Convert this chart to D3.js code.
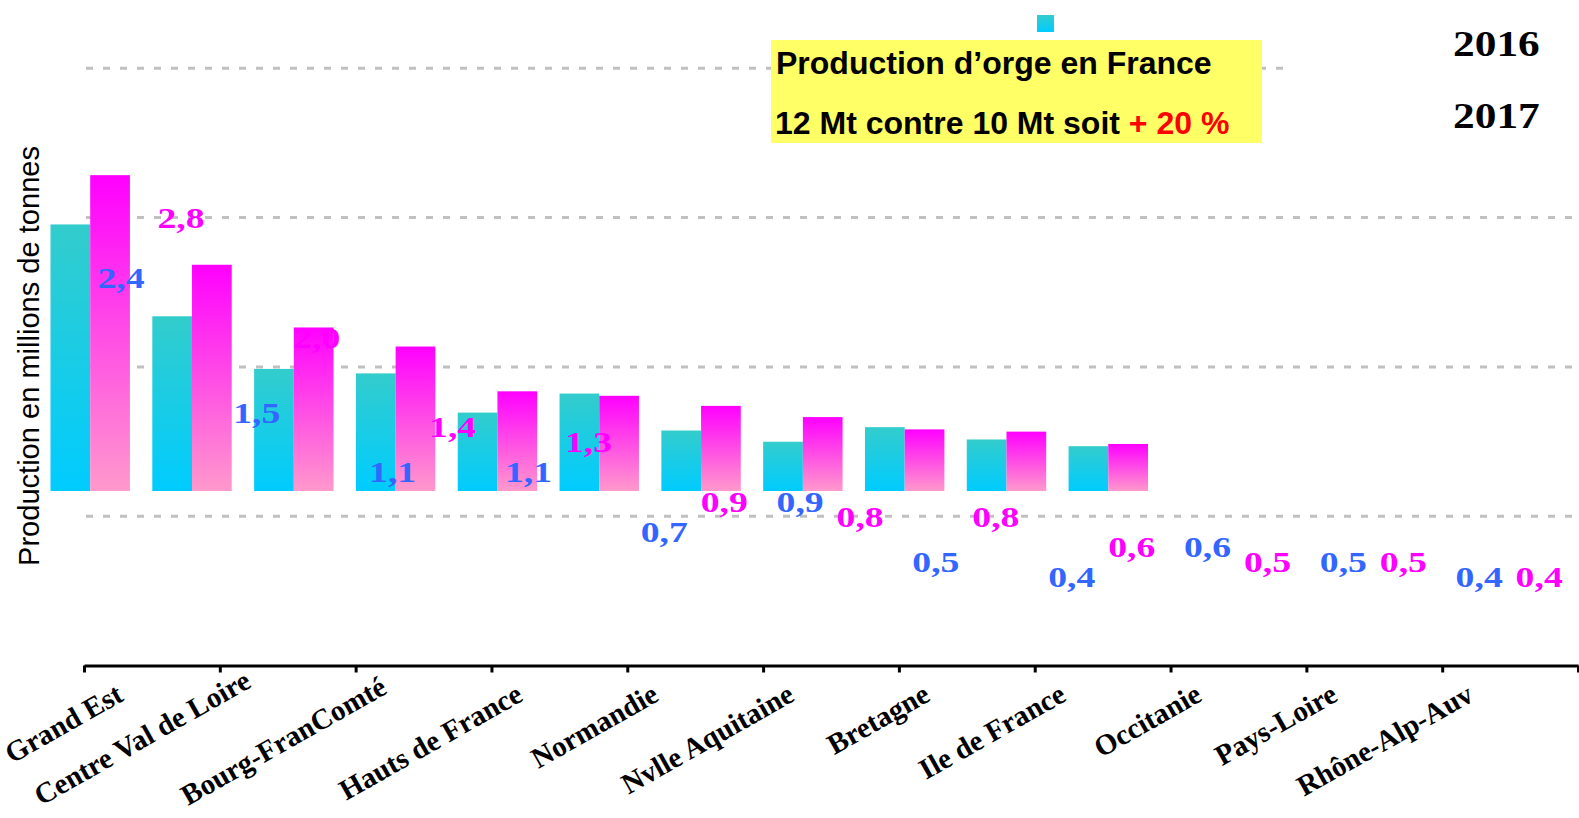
<!DOCTYPE html>
<html>
<head>
<meta charset="utf-8">
<script src="https://cdn.jsdelivr.net/npm/d3@7"></script>
<style>
body { margin: 0; background: #fff; }
</style>
</head>
<body>
<script>
// regions, in the order of the bars
var regions = ["Grand Est", "Centre Val de Loire", "Bourg-FranComté", "Hauts de France",
  "Normandie", "Nvlle Aquitaine", "Bretagne", "Ile de France", "Occitanie",
  "Pays-Loire", "Rhône-Alp-Auv"];
var years = ["2016", "2017"];
// bar heights as drawn (millions of tonnes)
var bars2016 = [2.38, 1.56, 1.09, 1.05, 0.70, 0.87, 0.54, 0.44, 0.57, 0.46, 0.40];
var bars2017 = [2.82, 2.02, 1.46, 1.29, 0.89, 0.85, 0.76, 0.66, 0.55, 0.53, 0.42];
// values printed on the chart
var labels2016 = [2.4, 1.5, 1.1, 1.1, 0.7, 0.9, 0.5, 0.4, 0.6, 0.5, 0.4];
var labels2017 = [2.8, 2.0, 1.4, 1.3, 0.9, 0.8, 0.8, 0.6, 0.5, 0.5, 0.4];
var gridValues = [1, 2, 3, 4];
var titleLine1 = "Production d’orge en France";
var titleLine2 = "12 Mt contre 10 Mt soit ";
var titleGain = "+ 20 %";
var yTitle = "Production en millions de tonnes";

var width = 1579, height = 818;
var colors = {"2016": ["#33cccc", "#00ccff"], "2017": ["#ff00ff", "#ff99cc"]};
var labelColors = {"2016": "#3366ff", "2017": "#ff00ff"};

var svg = d3.select("body").append("svg")
  .attr("width", width)
  .attr("height", height);

// gradients for the bars
var defs = svg.append("defs");
years.forEach(function(y) {
  var g = defs.append("linearGradient").attr("id", "g" + y)
    .attr("x1", 0).attr("y1", 0).attr("x2", 0).attr("y2", 1);
  g.append("stop").attr("offset", "0%").attr("stop-color", colors[y][0]);
  g.append("stop").attr("offset", "100%").attr("stop-color", colors[y][1]);
});

// scale of the axis (ticks, grid, value labels)
var xAxis = d3.scaleBand().domain(regions).range([84, 1578]);
var xLab = d3.scalePoint().domain(years).range([37, 97]);
var yAxis = d3.scaleLinear().domain([0, 4]).range([665.5, 68.3]);
// scale of the bar picture
var x0 = d3.scaleBand().domain(regions).range([50.5, 1148]).paddingInner(0.22).paddingOuter(0);
var x1 = d3.scaleBand().domain(years).range([0, x0.bandwidth()]);
var yBar = d3.scaleLinear().domain([0, 1]).range([491, 379]);

var fmt = function(v) { return d3.format(".1f")(v).replace(".", ","); };

// dashed grid
svg.append("g").selectAll("line")
  .data(gridValues).enter().append("line")
  .attr("x1", 86).attr("x2", width)
  .attr("y1", function(d) { return yAxis(d); })
  .attr("y2", function(d) { return yAxis(d); })
  .attr("stroke", "#c0c0c0")
  .attr("stroke-width", 3)
  .attr("stroke-dasharray", "7,10");

// bars
var rows = regions.map(function(r, i) {
  return {region: r, vals: [
    {year: "2016", v: bars2016[i], lab: labels2016[i]},
    {year: "2017", v: bars2017[i], lab: labels2017[i]}]};
});
var grp = svg.append("g").selectAll("g")
  .data(rows).enter().append("g")
  .attr("transform", function(d) { return "translate(" + x0(d.region) + ",0)"; });
grp.selectAll("rect")
  .data(function(d) { return d.vals; }).enter().append("rect")
  .attr("x", function(d) { return x1(d.year); })
  .attr("width", x1.bandwidth())
  .attr("y", function(d) { return yBar(d.v); })
  .attr("height", function(d) { return yBar(0) - yBar(d.v); })
  .attr("fill", function(d) { return "url(#g" + d.year + ")"; });

// white legend area on the right and the legend
svg.append("rect").attr("x", 1292).attr("y", 0).attr("width", 287).attr("height", 150).attr("fill", "#fff");
svg.append("rect").attr("x", 1037).attr("y", 15).attr("width", 17).attr("height", 17).attr("fill", "url(#g2016)");
svg.selectAll(".yr")
  .data(years).enter().append("text")
  .attr("transform", function(d, i) { return "translate(1453," + (56 + i * 72) + ") scale(1.24,1)"; })
  .attr("font-family", "'Liberation Serif', 'Times New Roman', serif")
  .attr("font-weight", "bold")
  .attr("font-size", 35)
  .text(function(d) { return d; });

// yellow title box
svg.append("rect").attr("x", 771).attr("y", 40).attr("width", 491).attr("height", 103).attr("fill", "#ffff66");
svg.append("text").attr("x", 776).attr("y", 74)
  .attr("font-family", "'Liberation Sans', Arial, sans-serif")
  .attr("font-weight", "bold").attr("font-size", 32)
  .text(titleLine1);
var t2 = svg.append("text").attr("x", 775).attr("y", 134)
  .attr("font-family", "'Liberation Sans', Arial, sans-serif")
  .attr("font-weight", "bold").attr("font-size", 32);
t2.append("tspan").text(titleLine2);
t2.append("tspan").attr("fill", "#ff0000").text(titleGain);

// value labels
grp.each(function(d) {
  d3.select(this.parentNode).append("g").selectAll("text")
    .data(d.vals).enter().append("text")
    .attr("transform", function(e) {
      return "translate(" + (xAxis(d.region) + xLab(e.year)) + "," + (yAxis(e.lab) - 19) + ") scale(1.3,1)";
    })
    .attr("text-anchor", "middle")
    .attr("font-family", "'Liberation Serif', 'Times New Roman', serif")
    .attr("font-weight", "bold")
    .attr("font-size", 29)
    .attr("fill", function(e) { return labelColors[e.year]; })
    .text(function(e) { return fmt(e.lab); });
});

// y title
svg.append("text")
  .attr("transform", "translate(39,356) rotate(-90)")
  .attr("text-anchor", "middle")
  .attr("font-family", "'Liberation Sans', Arial, sans-serif")
  .attr("font-size", 29)
  .attr("textLength", 420)
  .attr("lengthAdjust", "spacingAndGlyphs")
  .text(yTitle);

// x axis: line and ticks on band edges
var xTick = d3.scaleLinear().domain([0, regions.length]).range(xAxis.range());
var ax = svg.append("g").attr("transform", "translate(0," + yAxis(0) + ")")
  .call(d3.axisBottom(xTick).tickValues(d3.range(regions.length + 1))
    .tickFormat("").tickSizeInner(7).tickSizeOuter(0));
ax.selectAll("path, line").attr("stroke", "#000").attr("stroke-width", 3);

// rotated region names, ending left of band centre, kept inside the picture
var ang = 29.5, rad = ang * Math.PI / 180;
svg.append("g").selectAll("text")
  .data(regions).enter().append("text")
  .attr("text-anchor", "end")
  .attr("font-family", "'Liberation Serif', 'Times New Roman', serif")
  .attr("font-weight", "bold")
  .attr("font-size", 29)
  .text(function(d) { return d; })
  .attr("transform", function(d) {
    var len = this.getComputedTextLength();
    var ex = xAxis(d) + xAxis.bandwidth() / 2 - 35, ey = 700;
    var sx = ex - len * Math.cos(rad), sy = ey + len * Math.sin(rad);
    if (sx < 12) ex += 12 - sx;
    if (sy > 806) ey -= sy - 806;
    return "translate(" + ex + "," + ey + ") rotate(" + (-ang) + ")";
  });
</script>
</body>
</html>
